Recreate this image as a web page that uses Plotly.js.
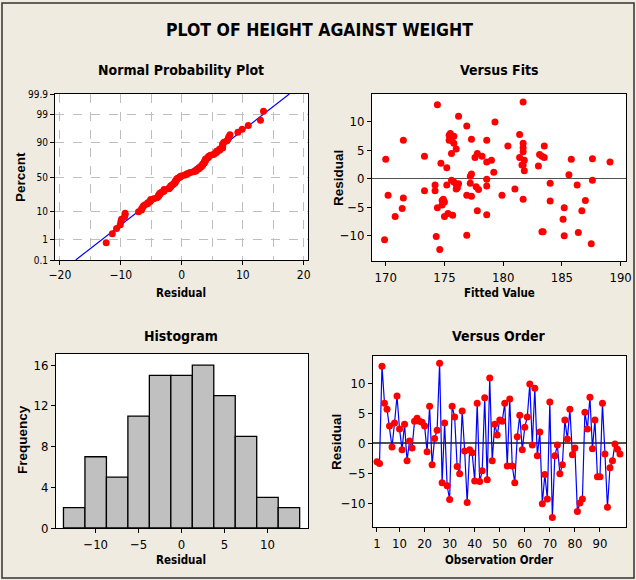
<!DOCTYPE html>
<html>
<head>
<meta charset="utf-8">
<script src="https://cdn.plot.ly/plotly-3.0.1.min.js"></script>
<style>html,body{margin:0;padding:0;background:#EFEBE1;}#chart{width:636px;height:580px;}</style>
</head>
<body>
<div id="chart"></div>
<script>
// ---------- data ----------
const observationOrder = Array.from({length: 98}, (_, i) => i + 1);
const residuals = [
  -3.1, -3.4, 12.9, 6.7, 5.7, 2.9, -0.6, 3.4, 7.9, 2.4,
  -1.1, 3.2, -2.9, 0.4, -0.8, 3.7, 4.2, 3.7, 3.5, 2.9,
  -1.4, 6.2, -3.6, 0.8, 2.2, 13.4, -6.6, 3.4, -7.1, -9.4,
  6.2, 4.4, -3.9, -5.1, 5.4, -1.3, -9.9, -1.1, -1.6, -6.3,
  6.7, -6.4, -4.6, 7.6, -6.1, 10.9, -2.9, 3.2, 1.4, 3.9,
  3.7, 6.7, -3.8, 7.4, -3.8, -6.6, 1.1, 4.7, -1.1, 2.7,
  4.4, 9.9, -0.3, 9.2, -2.1, 1.9, -10.1, -5.2, -9.3, 6.9,
  -12.4, -2.1, -0.3, -5.1, -3.6, 3.9, 0.7, 5.7, -1.9, -0.8,
  -11.4, -10.0, -9.3, 5.2, 2.4, 7.7, -0.9, 3.9, -5.6, -5.6,
  6.7, -1.8, -10.7, -4.1, -2.9, -0.1, -1.0, -1.8
];
const fittedValues = [
  177.3, 171.5, 174.4, 175.6, 180.4, 178.6, 175.8, 170.0, 175.5, 181.7,
  186.3, 179.0, 170.2, 177.2, 177.2, 181.4, 183.1, 177.6, 187.6, 189.1,
  177.7, 175.8, 181.7, 177.3, 183.0, 181.7, 175.0, 185.8, 185.1, 186.4,
  181.7, 175.6, 184.0, 174.4, 181.7, 178.6, 176.9, 174.2, 176.1, 178.6,
  178.6, 175.7, 174.8, 175.4, 175.3, 176.2, 176.9, 181.8, 181.8, 183.3,
  183.5, 171.5, 174.8, 175.8, 187.0, 170.8, 179.2, 181.7, 175.2, 174.7,
  177.8, 179.3, 187.6, 176.9, 173.3, 175.2, 174.3, 171.4, 183.3, 177.3,
  174.6, 174.2, 175.6, 185.2, 174.9, 173.3, 185.6, 183.5, 177.9, 184.0,
  187.5, 185.2, 183.4, 176.0, 181.6, 181.4, 176.2, 178.2, 177.8, 186.7,
  175.4, 176.0, 169.9, 175.0, 179.9, 178.6, 176.0, 181.0
];
const percentTickLabels = [0.1, 1, 10, 50, 90, 99, 99.9];
const residualTicksNPP = [-20, -10, 0, 10, 20];
const fitTicks = [170, 175, 180, 185, 190];
const residualTicks = [-10, -5, 0, 5, 10];
const histXTicks = [-10, -5, 0, 5, 10];
const histYTicks = [0, 4, 8, 12, 16];
const orderTicks = [1, 10, 20, 30, 40, 50, 60, 70, 80, 90];

// ---------- normal-probability scale ----------
function invNorm(p) {
  const a = [-3.969683028665376e+01, 2.209460984245205e+02, -2.759285104469687e+02, 1.383577518672690e+02, -3.066479806614716e+01, 2.506628277459239e+00];
  const b = [-5.447609879822406e+01, 1.615858368580409e+02, -1.556989798598866e+02, 6.680131188771972e+01, -1.328068155288572e+01];
  const c = [-7.784894002430293e-03, -3.223964580411365e-01, -2.400758277161838e+00, -2.549732539343734e+00, 4.374664141464968e+00, 2.938163982698783e+00];
  const d = [7.784695709041462e-03, 3.224671290700398e-01, 2.445134137142996e+00, 3.754408661907416e+00];
  const pl = 0.02425, ph = 1 - pl;
  let q, r;
  if (p < pl) { q = Math.sqrt(-2 * Math.log(p)); return (((((c[0]*q+c[1])*q+c[2])*q+c[3])*q+c[4])*q+c[5]) / ((((d[0]*q+d[1])*q+d[2])*q+d[3])*q+1); }
  if (p <= ph) { q = p - 0.5; r = q*q; return (((((a[0]*r+a[1])*r+a[2])*r+a[3])*r+a[4])*r+a[5])*q / (((((b[0]*r+b[1])*r+b[2])*r+b[3])*r+b[4])*r+1); }
  q = Math.sqrt(-2 * Math.log(1 - p)); return -(((((c[0]*q+c[1])*q+c[2])*q+c[3])*q+c[4])*q+c[5]) / ((((d[0]*q+d[1])*q+d[2])*q+d[3])*q+1);
}
const n = residuals.length;
const sortedRes = residuals.slice().sort((a, b) => a - b);
const nppZ = sortedRes.map((v, i) => invNorm((i + 1 - 0.3) / (n + 0.4)));
const mean = residuals.reduce((s, v) => s + v, 0) / n;
const sd = Math.sqrt(residuals.reduce((s, v) => s + (v - mean) ** 2, 0) / (n - 1));
const zLo = invNorm(percentTickLabels[0] / 100), zHi = invNorm(percentTickLabels[percentTickLabels.length - 1] / 100);
const percentTickVals = percentTickLabels.map(p => invNorm(p / 100));

// ---------- layout helpers ----------
const W = 636, H = 580;
const px = x => x / W, py = y => 1 - y / H;
const NARROW = '"Liberation Sans Narrow", "Arial Narrow", "DejaVu Sans Condensed", sans-serif';
const WIDE = '"Liberation Sans", Arial, sans-serif';
const RED = '#FF0000', BLUE = '#0000FF';

function axisBase(extra) {
  return Object.assign({
    showline: true, mirror: true, linecolor: '#000', linewidth: 1,
    ticks: 'outside', ticklen: 4, tickcolor: '#000', tickwidth: 1,
    showgrid: false, zeroline: false,
    tickfont: {family: NARROW, size: 13, color: '#000'},
    fixedrange: true
  }, extra);
}

const traces = [
  // Normal probability plot
  {type: 'scatter', mode: 'lines', x: [mean + sd * zLo, mean + sd * zHi], y: [zLo, zHi],
   xaxis: 'x', yaxis: 'y', line: {color: BLUE, width: 1.2}, hoverinfo: 'skip'},
  {type: 'scatter', mode: 'markers', x: sortedRes, y: nppZ, xaxis: 'x', yaxis: 'y',
   marker: {color: RED, size: 7}},
  // Versus fits
  {type: 'scatter', mode: 'markers', x: fittedValues, y: residuals, xaxis: 'x2', yaxis: 'y2',
   marker: {color: RED, size: 7}},
  // Histogram
  {type: 'histogram', x: residuals, xaxis: 'x3', yaxis: 'y3',
   xbins: {start: -13.75, end: 13.75, size: 2.5},
   marker: {color: '#C0C0C0', line: {color: '#000', width: 1.3}}},
  // Versus order
  {type: 'scatter', mode: 'lines+markers', x: observationOrder, y: residuals, xaxis: 'x4', yaxis: 'y4',
   line: {color: BLUE, width: 1.2}, marker: {color: RED, size: 7}}
];

function ann(text, x, y, size, family, angle) {
  return {text: '<b>' + text + '</b>', xref: 'paper', yref: 'paper', x: px(x), y: py(y),
          xanchor: 'center', yanchor: 'middle', showarrow: false, textangle: angle || 0,
          font: {family: family, size: size, color: '#000'}};
}

const layout = {
  width: W, height: H,
  margin: {l: 0, r: 0, t: 0, b: 0},
  paper_bgcolor: '#EFEBE1', plot_bgcolor: '#FFFFFF',
  showlegend: false, bargap: 0,
  xaxis: axisBase({domain: [px(55), px(308)], range: [-20.8, 20.7], tickvals: residualTicksNPP,
    tickfont: {family: NARROW, size: 12, color: '#000'},
    showgrid: true, gridcolor: '#BEBEBE', griddash: 'dash', gridwidth: 1,
    minor: {dtick: 5, tick0: 0, showgrid: true, gridcolor: '#BEBEBE', griddash: 'dash', ticks: ''},
    anchor: 'y'}),
  yaxis: axisBase({domain: [py(260), py(94)], range: [zLo, zHi], tickvals: percentTickVals,
    ticktext: percentTickLabels.map(String), tickfont: {family: NARROW, size: 10, color: '#000'},
    showgrid: true, gridcolor: '#BEBEBE', griddash: 'dash', gridwidth: 1, anchor: 'x'}),
  xaxis2: axisBase({domain: [px(372), px(626)], range: [168.83, 190.46], tickvals: fitTicks, anchor: 'y2'}),
  yaxis2: axisBase({domain: [py(261), py(94)], range: [-14.4, 14.8], tickvals: residualTicks, anchor: 'x2',
    zeroline: true, zerolinecolor: '#505050', zerolinewidth: 1.6}),
  xaxis3: axisBase({domain: [px(56), px(308)], range: [-14.62, 14.72], tickvals: histXTicks, anchor: 'y3'}),
  yaxis3: axisBase({domain: [py(528), py(354)], range: [0, 17.1], tickvals: histYTicks, anchor: 'x3'}),
  xaxis4: axisBase({domain: [px(373), px(626)], range: [-0.59, 100.4], tickvals: orderTicks, anchor: 'y4'}),
  yaxis4: axisBase({domain: [py(527), py(356)], range: [-14.0, 14.6], tickvals: residualTicks, anchor: 'x4',
    zeroline: true, zerolinecolor: '#505050', zerolinewidth: 1.6}),
  annotations: [
    ann('PLOT OF HEIGHT AGAINST WEIGHT', 319, 30, 17.5, NARROW),
    ann('Normal Probability Plot', 181, 70, 14, NARROW),
    ann('Versus Fits', 499, 70, 14, NARROW),
    ann('Histogram', 181, 336, 14, NARROW),
    ann('Versus Order', 499, 336, 14, NARROW),
    ann('Residual', 181, 293, 11.5, NARROW),
    ann('Fitted Value', 499, 293, 11.5, NARROW),
    ann('Residual', 181, 560, 11.5, NARROW),
    ann('Observation Order', 499, 560, 11.5, NARROW),
    ann('Percent', 20, 177, 13.5, WIDE, -90),
    ann('Residual', 338, 178, 13.5, WIDE, -90),
    ann('Frequency', 22, 440, 13.5, WIDE, -90),
    ann('Residual', 336, 442, 13.5, WIDE, -90)
  ],
  shapes: [
    {type: 'rect', xref: 'paper', yref: 'paper', x0: px(2), x1: px(634), y0: py(578), y1: py(3),
     line: {color: '#333', width: 1.5}, fillcolor: 'rgba(0,0,0,0)'}
  ]
};

Plotly.newPlot('chart', traces, layout, {staticPlot: true, displayModeBar: false});
</script>
</body>
</html>
